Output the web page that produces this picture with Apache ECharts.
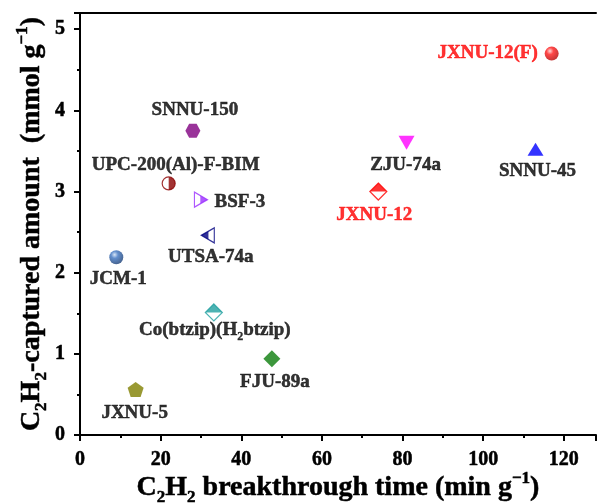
<!DOCTYPE html>
<html><head><meta charset="utf-8">
<script src="https://cdn.jsdelivr.net/npm/echarts@6/dist/echarts.min.js"></script>
<style>html,body{margin:0;padding:0;background:#fff}#c{width:597px;height:504px}</style>
</head><body><div id="c"></div>
<script>
// ---- data ----
const names = ['JXNU-12(F)','SNNU-45','ZJU-74a','JXNU-12','SNNU-150','UPC-200(Al)-F-BIM','BSF-3','UTSA-74a','JCM-1','Co(btzip)(H2btzip)','FJU-89a','JXNU-5'];
const breakthroughTime = [117, 113, 81, 74, 28, 22, 30, 31.7, 9, 33.2, 47.6, 13.8];
const capturedAmount = [4.70, 3.52, 3.60, 3.00, 3.75, 3.10, 2.90, 2.46, 2.19, 1.51, 0.94, 0.56];

// ---- styles ----
const FONT = '"Liberation Serif","Times New Roman",serif';
const sphere = (hi, mid, lo) => ({type:'radial', x:0.38, y:0.32, r:0.72,
  colorStops:[{offset:0,color:hi},{offset:0.35,color:mid},{offset:1,color:lo}]});
const BOX = 'M0 0 M20 20 ';
const shapes = {
  downTri: 'path://M0 0 L20 0 L10 20 Z',
  rightTri: 'path://M0 0 L20 10 L0 20 Z',
  leftTri: 'path://M20 0 L0 10 L20 20 Z',
  hex: 'path://M5 0 L15 0 L20 8.66 L15 17.32 L5 17.32 L0 8.66 Z',
  pent: 'path://M10 0 L19.5 6.9 L15.9 18.1 L4.1 18.1 L0.5 6.9 Z',
  diamondTop: 'path://' + BOX + 'M0 10 L10 0 L20 10 Z',
  circleRight: 'path://' + BOX + 'M10 0 A10 10 0 0 1 10 20 Z',
  triRightHalf: 'path://' + BOX + 'M9 4.5 L20 10 L9 15.5 Z',
  triLeftHalf: 'path://' + BOX + 'M0 10 L11 4.5 L11 15.5 Z'
};
const markerStyles = [
  {symbol:'circle', size:14, color:sphere('#ffd0d0','#ff1a1a','#b00000')},
  {symbol:'triangle', size:[16,13], color:'#0000ff'},
  {symbol:shapes.downTri, size:[16,14], color:'#ff00ff'},
  {symbol:'diamond', size:[17,17], color:'#ffffff', border:'#ff0000', half:shapes.diamondTop},
  {symbol:shapes.hex, size:[15,14], color:'#800080'},
  {symbol:'circle', size:13, color:'#ffffff', border:'#8b0000', half:shapes.circleRight},
  {symbol:shapes.rightTri, size:[13,15], color:'#ffffff', border:'#9b30ff', half:shapes.triRightHalf},
  {symbol:shapes.leftTri, size:[13,15], color:'#ffffff', border:'#000080', half:shapes.triLeftHalf},
  {symbol:'circle', size:14, color:sphere('#cfe0f5','#3a72c0','#173a70')},
  {symbol:'diamond', size:[17,17], color:'#ffffff', border:'#20a0a0', half:shapes.diamondTop},
  {symbol:'diamond', size:[17,17], color:'#0b7d0b'},
  {symbol:shapes.pent, size:[16,15], color:'#808000'}
];
const labelOffsets = [[-64,0],[2,22],[-1,22],[-4,24],[2,-21],[7,-18],[39,2],[3,22],[2,22],[1,18],[3,23],[-1,24]];
const labelColors = ['#ff0000','#000','#000','#ff0000','#000','#000','#000','#000','#000','#000','#000','#000'];

const bold = (size, extra) => Object.assign({fontFamily:FONT, fontWeight:'bold', fontSize:size, color:'#000',
  textBorderColor:'#000', textBorderWidth:0.5}, extra || {});
const nameRich = {
  n: bold(28, {lineHeight:36}),
  s: bold(17, {lineHeight:17, verticalAlign:'bottom'}),
  p: bold(17, {lineHeight:17, verticalAlign:'top'})
};

const baseData = names.map((nm, i) => {
  const st = markerStyles[i];
  return {
    name: nm,
    value: [breakthroughTime[i], capturedAmount[i]],
    symbol: st.symbol,
    symbolSize: st.size,
    itemStyle: {color: st.color, borderColor: st.border || 'transparent', borderWidth: st.border ? 1.2 : 0},
    label: {show:true, position:'inside', offset: labelOffsets[i], color: labelColors[i],
      textBorderWidth:0.5, textBorderColor: labelColors[i]}
  };
});
const halfData = [];
names.forEach((nm, i) => {
  const st = markerStyles[i];
  if (st.half) halfData.push({
    name: nm, value:[breakthroughTime[i], capturedAmount[i]],
    symbol: st.half, symbolSize: st.size,
    itemStyle:{color: st.border, borderWidth:0}
  });
});

const axisCommon = {
  axisLine:{show:true, onZero:false, lineStyle:{color:'#000', width:2}},
  axisTick:{show:true, inside:false, length:6, lineStyle:{color:'#000', width:2}},
  minorTick:{show:true, splitNumber:2, length:3, lineStyle:{color:'#000', width:2}},
  axisLabel:Object.assign(bold(20), {margin:15, showMaxLabel:false}),
  splitLine:{show:false}, minorSplitLine:{show:false},
  nameTextStyle:{rich:nameRich}, nameMoveOverlap:false
};

const chart = echarts.init(document.getElementById('c'), null, {renderer:'canvas'});
chart.setOption({
  animation:false,
  backgroundColor:'#ffffff',
  grid:{left:80, right:1, top:13, bottom:69, containLabel:false, outerBoundsMode:'none'},
  xAxis:[Object.assign({
    type:'value', min:0, max:128, interval:20, position:'bottom',
    name:'{n|C}{s|2}{n|H}{s|2}{n| breakthrough time (min g}{p|−1}{n|)}',
    nameLocation:'middle', nameGap:35
  }, axisCommon),{
    type:'value', min:0, max:128, position:'top',
    axisLine:{show:true, onZero:false, lineStyle:{color:'#000', width:2}},
    axisTick:{show:false}, axisLabel:{show:false}, splitLine:{show:false}
  }],
  yAxis:Object.assign({
    type:'value', min:0, max:5.2, interval:1,
    name:'{n|C}{s|2}{n|H}{s|2}{n|-captured amount  (mmol g}{p|−1}{n|)}',
    nameLocation:'middle', nameGap:30, nameRotate:90
  }, axisCommon),
  series:[{
    type:'scatter', data: baseData, z:3,
    label:{
      fontFamily:FONT, fontWeight:'bold', fontSize:19,
      formatter: p => p.name.indexOf('H2btzip') >= 0 ? '{n|Co(btzip)(H}{s|2}{n|btzip)}' : p.name,
      rich:{
        n: bold(19, {lineHeight:24}),
        s: bold(12, {lineHeight:12, verticalAlign:'bottom', textBorderWidth:0.3})
      }
    },
    emphasis:{disabled:true}
  },{
    type:'scatter', data: halfData, z:4, silent:true, emphasis:{disabled:true}
  }]
});
</script></body></html>
